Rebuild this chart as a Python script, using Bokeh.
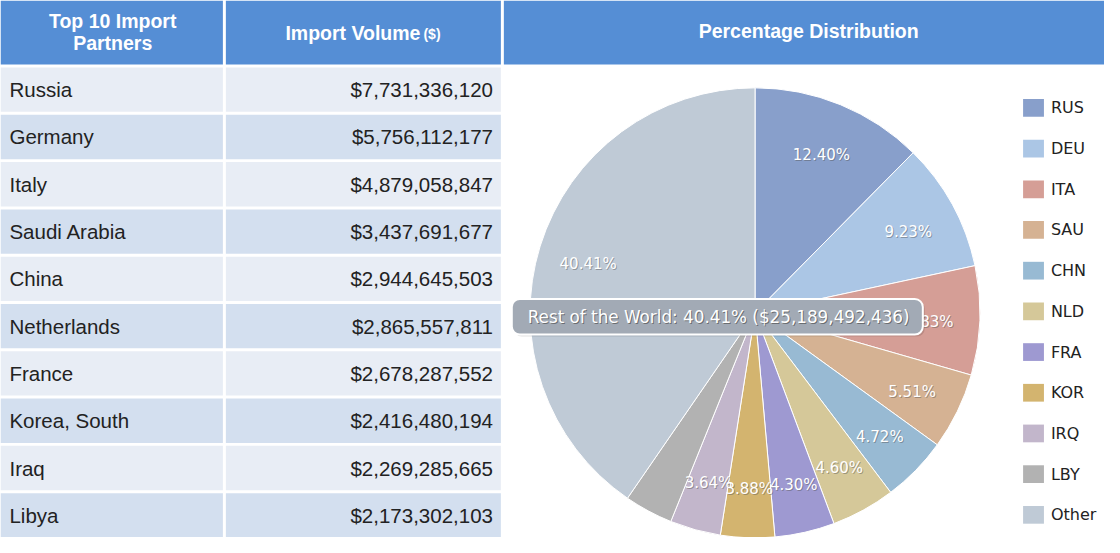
import math
from bokeh.plotting import figure
from bokeh.models import ColumnDataSource, Range1d
from bokeh.core.properties import value
from bokeh.embed import file_html
from bokeh.resources import INLINE

# ---------------- data ----------------
partners = ["Russia", "Germany", "Italy", "Saudi Arabia", "China",
            "Netherlands", "France", "Korea, South", "Iraq", "Libya"]
codes = ["RUS", "DEU", "ITA", "SAU", "CHN", "NLD", "FRA", "KOR", "IRQ", "LBY"]
volumes = [7731336120, 5756112177, 4879058847, 3437691677, 2944645503,
           2865557811, 2678287552, 2416480194, 2269285665, 2173302103]
rest_name = "Rest of the World"
rest_code = "Other"
rest_volume = 25189492436

header_titles = ["Top 10 Import\nPartners", "Import Volume", "Percentage Distribution"]
slice_colors = ["#889FCB", "#ABC6E5", "#D59E96", "#D5B293", "#98BAD3",
                "#D5C899", "#9E99D1", "#D3B46F", "#C2B6CB", "#B2B2B2", "#BFCAD6"]

# ---------------- styles ----------------
HEAD = "#558ED5"
ROW_LIGHT = "#E8EDF5"
ROW_DARK = "#D3DFEF"
TXT = "#222222"
SANS = value("Liberation Sans")
VERD = value("DejaVu Sans")

p = figure(width=1104, height=537, x_range=Range1d(8, 1120), y_range=Range1d(553, 8),
           output_backend="svg", toolbar_location=None, min_border=0,
           x_axis_type=None, y_axis_type=None)
p.grid.visible = False
p.outline_line_color = None
p.background_fill_color = "white"
p.border_fill_color = "white"

# ---------------- table header ----------------
p.quad(left=[8, 235, 515], right=[232, 512, 1120], top=[8, 8, 8], bottom=[73, 73, 73],
       fill_color=HEAD, line_color=None)
t1 = header_titles[0].split("\n")
p.text(x=[121, 121], y=[29, 51], text=t1, text_align="center", text_baseline="middle",
       text_font=SANS, text_font_style="bold", text_font_size="19.5px", text_color="white")
p.text(x=[431], y=[41], text=[header_titles[1]], text_align="right", text_baseline="middle",
       text_font=SANS, text_font_style="bold", text_font_size="19.5px", text_color="white")
p.text(x=[434], y=[42], text=["($)"], text_align="left", text_baseline="middle",
       text_font=SANS, text_font_style="bold", text_font_size="14px", text_color="white")
p.text(x=[822], y=[39], text=[header_titles[2]], text_align="center", text_baseline="middle",
       text_font=SANS, text_font_style="bold", text_font_size="19.5px", text_color="white")

# ---------------- table rows ----------------
n = len(partners)
tops = [76 + 48 * i for i in range(n)]
bots = [t + 45 for t in tops]
mids = [t + 22.5 for t in tops]
fills = [ROW_LIGHT if i % 2 == 0 else ROW_DARK for i in range(n)]
rows = ColumnDataSource(dict(top=tops, bottom=bots, mid=mids, fill=fills,
                             name=partners, val=[f"${v:,}" for v in volumes]))
p.quad(left=8, right=232, top="top", bottom="bottom", fill_color="fill", line_color=None, source=rows)
p.quad(left=235, right=512, top="top", bottom="bottom", fill_color="fill", line_color=None, source=rows)
p.text(x=17, y="mid", text="name", text_baseline="middle", text_align="left",
       text_font=SANS, text_font_size="20.5px", text_color=TXT, source=rows)
p.text(x=504, y="mid", text="val", text_baseline="middle", text_align="right",
       text_font=SANS, text_font_size="20.5px", text_color=TXT, source=rows)

# ---------------- pie ----------------
all_codes = codes + [rest_code]
all_vals = volumes + [rest_volume]
total = sum(all_vals)
fracs = [v / total for v in all_vals]
cum = [0.0]
for f in fracs:
    cum.append(cum[-1] + f)
starts = [math.pi / 2 - 2 * math.pi * cum[i + 1] for i in range(len(fracs))]
ends = [math.pi / 2 - 2 * math.pi * cum[i] for i in range(len(fracs))]
cx, cy = 768, 325
pie = ColumnDataSource(dict(start=starts, end=ends, color=slice_colors))
p.wedge(x=cx, y=cy, radius=225, radius_units="screen", start_angle="start", end_angle="end",
        direction="anticlock", fill_color="color", line_color="white", line_width=1, source=pie)

lx, ly, lt = [], [], []
for i, f in enumerate(fracs):
    pct = f * 100
    if pct < 3.55:
        continue
    th = 2 * math.pi * (cum[i] + f / 2)
    lx.append(cx + 176 * math.sin(th))
    ly.append(cy - 176 * math.cos(th) + 3)
    lt.append(f"{pct:.2f}%")
p.text(x=[x + 1 for x in lx], y=[y + 1 for y in ly], text=lt, text_align="center",
       text_baseline="middle", text_font=VERD, text_font_size="15px", text_color="#555555",
       text_alpha=0.45)
p.text(x=lx, y=ly, text=lt, text_align="center", text_baseline="middle",
       text_font=VERD, text_font_size="15px", text_color="white")

# ---------------- tooltip ----------------
tip = f"{rest_name}: {fracs[-1]*100:.2f}% (${rest_volume:,})"
p.rect(x=[732], y=[331], width=414, height=36, border_radius=8,
       fill_color="black", fill_alpha=0.12, line_color=None)
p.rect(x=[730], y=[329], width=414, height=36, border_radius=8,
       fill_color="#A2AAB5", line_color="white", line_width=2)
p.text(x=[540], y=[330], text=[tip], text_baseline="middle", text_align="left",
       text_font=VERD, text_font_size="16.8px", text_color="#444444", text_alpha=0.6)
p.text(x=[539], y=[329], text=[tip], text_baseline="middle", text_align="left",
       text_font=VERD, text_font_size="16.8px", text_color="white")

# ---------------- legend ----------------
leg_y = [117 + 41.3 * i for i in range(len(all_codes))]
leg = ColumnDataSource(dict(y=leg_y, code=all_codes, color=slice_colors))
p.rect(x=1048.5, y="y", width=21, height=18, fill_color="color", line_color=None, source=leg)
p.text(x=1066, y="y", text="code", text_baseline="middle", text_align="left",
       text_font=VERD, text_font_size="16px", text_color=TXT, source=leg)

open("out.html", "w").write(file_html(p, INLINE))
